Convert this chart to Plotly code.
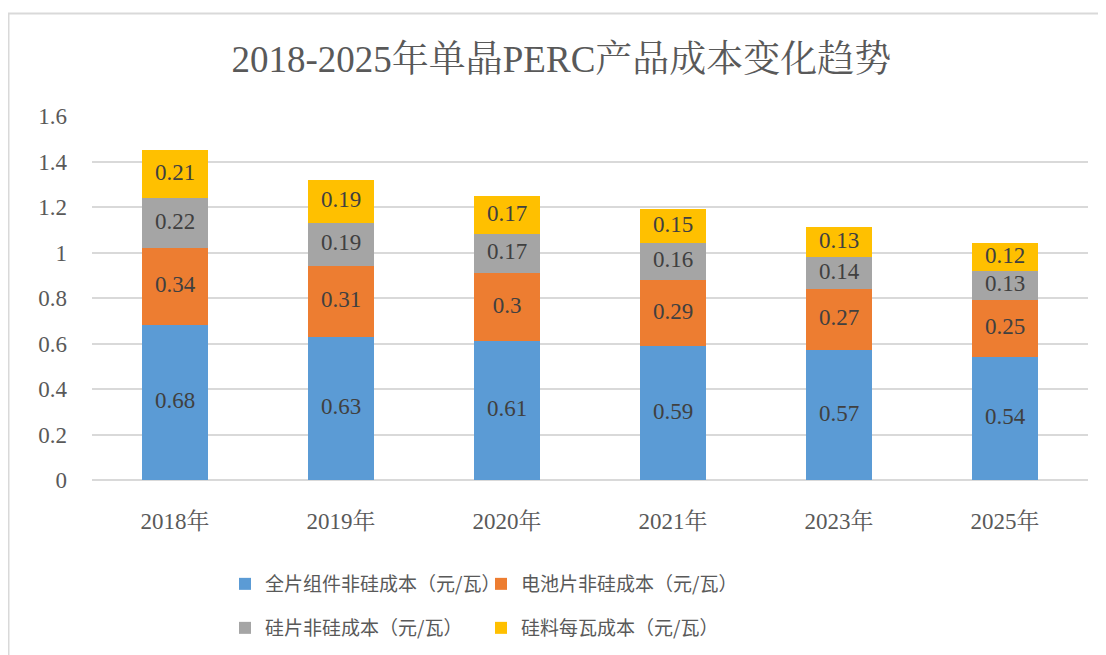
import plotly.graph_objects as go

categories = ["2018年", "2019年", "2020年", "2021年", "2023年", "2025年"]
module_cost = [0.68, 0.63, 0.61, 0.59, 0.57, 0.54]
cell_cost = [0.34, 0.31, 0.3, 0.29, 0.27, 0.25]
wafer_cost = [0.22, 0.19, 0.17, 0.16, 0.14, 0.13]
silicon_cost = [0.21, 0.19, 0.17, 0.15, 0.13, 0.12]
series_names = ["全片组件非硅成本（元/瓦）", "电池片非硅成本（元/瓦）",
                "硅片非硅成本（元/瓦）", "硅料每瓦成本（元/瓦）"]
y_ticks = [0, 0.2, 0.4, 0.6, 0.8, 1, 1.2, 1.4, 1.6]

colors = ["#5B9BD5", "#ED7D31", "#A5A5A5", "#FFC000"]
series = [module_cost, cell_cost, wafer_cost, silicon_cost]
legends = ["legend", "legend2", "legend3", "legend4"]

SERIF = "Liberation Serif, Noto Serif CJK SC, Noto Sans CJK SC, serif"
CJK = "Noto Sans CJK SC, sans-serif"

# page offset of 8px (body margin) is compensated for
W, H = 1098, 647
L, T, R, B = 84, 108, 1080, 472   # plot area in figure px
PW, PH = R - L, B - T

fig = go.Figure()
base = [0.0] * len(categories)
for name, vals, col, lg in zip(series_names, series, colors, legends):
    fig.add_trace(go.Bar(
        x=categories, y=vals, name=name, marker_color=col,
        marker_line_width=0, legend=lg, hoverinfo="y+name",
    ))
    mids = [b + v / 2 for b, v in zip(base, vals)]
    fig.add_trace(go.Scatter(
        x=categories, y=mids, mode="text", text=[str(v) for v in vals],
        textfont=dict(family=SERIF, size=23, color="#404040"),
        showlegend=False, hoverinfo="skip",
    ))
    base = [b + v for b, v in zip(base, vals)]

# outer chart frame
fig.add_shape(type="rect", xref="paper", yref="paper",
              x0=(0.5 - L) / PW, x1=(W + 10 - L) / PW,
              y0=(B - (H + 10)) / PH, y1=(B - 5.5) / PH,
              line=dict(color="#D9D9D9", width=2), layer="below")


def legend_at(px_x, px_y):
    return dict(orientation="h", xref="container", yref="container",
                x=px_x / W, xanchor="left",
                y=1 - px_y / H, yanchor="middle",
                font=dict(family=CJK, size=19, color="#595959"),
                itemwidth=30, bgcolor="rgba(0,0,0,0)")


fig.update_layout(
    width=W, height=H,
    margin=dict(l=L, r=W - R, t=T, b=H - B),
    barmode="stack", bargap=0.6,
    plot_bgcolor="white", paper_bgcolor="white",
    title=dict(text="2018-2025年单晶PERC产品成本变化趋势",
               x=0.504, xref="container", xanchor="center",
               y=1 - 51 / H, yref="container", yanchor="middle",
               font=dict(family=SERIF, size=37, color="#595959")),
    xaxis=dict(type="category", showline=False, showgrid=False,
               ticks="", tickfont=dict(family=SERIF, size=23, color="#595959"),
               ticklabelstandoff=25),
    yaxis=dict(range=[0, 1.6], tickvals=y_ticks, ticktext=[str(t) for t in y_ticks],
               showgrid=True, gridcolor="#D9D9D9", gridwidth=1.5,
               zeroline=True, zerolinecolor="#D9D9D9", zerolinewidth=1.5,
               showline=False, ticks="",
               tickfont=dict(family=SERIF, size=23, color="#595959"),
               ticklabelstandoff=24),
    legend=legend_at(217, 576),
    legend2=legend_at(473, 576),
    legend3=legend_at(217, 620),
    legend4=legend_at(473, 620),
    showlegend=True,
)

fig.write_html("out.html")
